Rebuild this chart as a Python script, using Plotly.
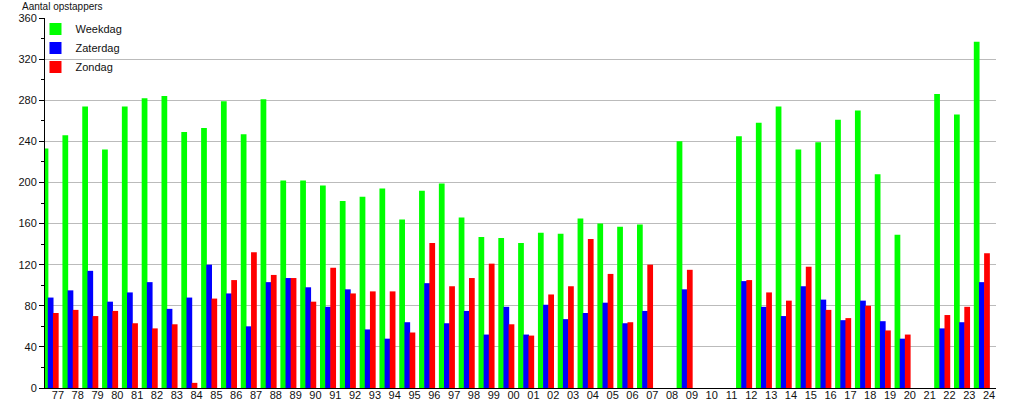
import plotly.graph_objects as go

years = ["77","78","79","80","81","82","83","84","85","86","87","88","89","90","91","92",
         "93","94","95","96","97","98","99","00","01","02","03","04","05","06","07","08",
         "09","10","11","12","13","14","15","16","17","18","19","20","21","22","23","24"]

weekdag = [233,246,274,232,274,282,284,249,253,279,247,281,202,202,197,182,
           186,194,164,192,199,166,147,146,141,151,150,165,160,157,159,None,
           240,None,None,245,258,274,232,239,261,270,208,149,None,286,266,337]

zaterdag = [88,95,114,84,93,103,77,88,120,92,60,103,107,98,79,96,
            57,48,64,102,63,75,52,79,52,81,67,73,83,63,75,None,
            96,None,None,104,79,70,99,86,66,85,65,48,None,58,64,103]

zondag = [73,76,70,75,63,58,62,5,87,105,132,110,107,84,117,92,
          94,94,54,141,99,107,121,62,51,91,99,145,111,64,120,None,
          115,None,None,105,93,85,118,76,68,80,56,52,None,71,79,131]

series = [("Weekdag", weekdag, "#00ff00", -0.62),
          ("Zaterdag", zaterdag, "#0000ff", -0.36),
          ("Zondag", zondag, "#ff0000", -0.10)]

font_family = "Liberation Sans, Arial, sans-serif"

fig = go.Figure()
for name, vals, color, off in series:
    fig.add_trace(go.Bar(x=years, y=vals, name=name, marker=dict(color=color, line=dict(width=0)),
                         width=0.29, offset=off))

fig.update_layout(
    width=1015, height=400,
    margin=dict(l=45, r=19, t=18, b=12, autoexpand=False),
    paper_bgcolor="white", plot_bgcolor="white",
    barmode="overlay",
    font=dict(family=font_family, size=11, color="#111111"),
    showlegend=True,
    legend=dict(x=-0.010, y=1.0095, xanchor="left", yanchor="top",
                bgcolor="rgba(0,0,0,0)", font=dict(size=11, color="#111111"),
                tracegroupgap=0, itemwidth=30),
    xaxis=dict(type="category", range=[-0.5, 47.5], showgrid=False, automargin=False,
               showline=True, linecolor="black", linewidth=1, ticks="",
               ticklabelshift=3, ticklabelstandoff=-3, tickfont=dict(size=11), fixedrange=True),
    yaxis=dict(range=[0, 360], tick0=0, dtick=40, showgrid=True, gridcolor="#bbbbbb",
               gridwidth=1, showline=True, linecolor="black", linewidth=1, automargin=False,
               ticks="outside", ticklen=5, tickcolor="black", zeroline=False,
               minor=dict(dtick=20, ticks="outside", ticklen=3, tickcolor="black", showgrid=False),
               tickfont=dict(size=11), fixedrange=True),
)

fig.add_annotation(text="Aantal opstappers", xref="paper", yref="paper",
                   x=-0.026, y=1.0, xanchor="left", yanchor="bottom", yshift=4,
                   showarrow=False, font=dict(size=10, color="#111111"))

fig.write_html("out.html", config={"displayModeBar": False},
               post_script="document.body.style.margin='0';")
